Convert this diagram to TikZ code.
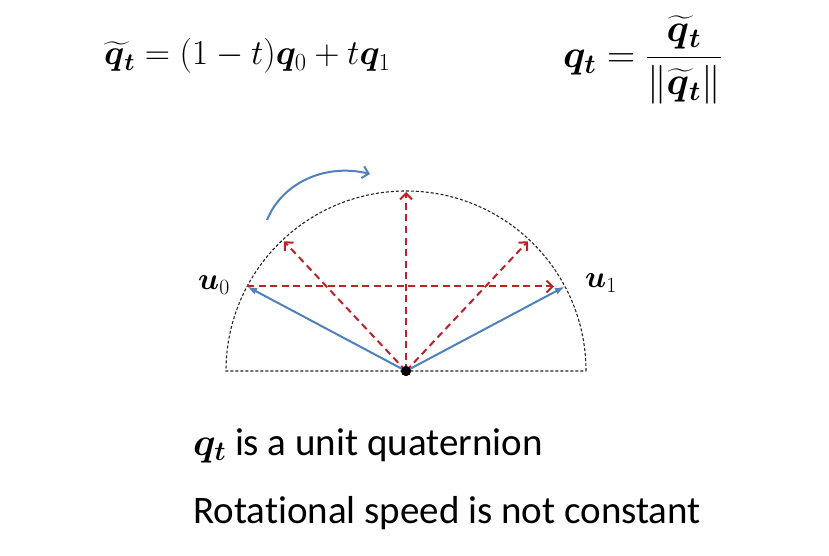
\RequirePackage{fix-cm}
\documentclass[tikz,border=0pt]{standalone}
\usepackage{amsmath,bm}
\usepackage{fontspec}
\setmainfont[Ligatures=CommonOff]{Carlito}
\usetikzlibrary{arrows.meta,calc}
\definecolor{qblue}{RGB}{79,129,189}
\definecolor{qred}{RGB}{192,32,40}
\newcommand{\qtil}{\widetilde{\bm q\mkern3mu}\mkern-3mu}
\begin{document}
\begin{tikzpicture}[x=1pt,y=1pt,
  vecblue/.style={draw=qblue, line width=2pt, -{Latex[length=10pt,width=7pt]}},
  reddash/.style={draw=qred, line width=2pt, dash pattern=on 7pt off 4.5pt, -{Straight Barb[length=6pt,width=12pt]}},
  guide/.style={draw=black!85, line width=1.1pt, dash pattern=on 3pt off 2pt},
  lab/.style={font=\fontsize{31}{36}\selectfont, inner sep=0pt},
  formula/.style={font=\fontsize{35}{40}\selectfont, inner sep=0pt},
  body/.style={font=\fontsize{39}{44}\selectfont, inner sep=0pt, anchor=base west}]
\useasboundingbox (0,0) rectangle (829,555);
\fill[white] (0,0) rectangle (829,555);
\coordinate (C) at (406,184);
\draw[guide] ($(C)+(180,0)$) arc[start angle=0,end angle=180,radius=180] -- cycle;
\coordinate (P0) at ($(C)+(152:180)$);
\coordinate (P1) at ($(C)+(28:180)$);
\coordinate (M1) at ($(P0)!0.25!(P1)$);
\coordinate (M2) at ($(P0)!0.5!(P1)$);
\coordinate (M3) at ($(P0)!0.75!(P1)$);
\coordinate (E1) at ($(C)!178pt!(M1)$);
\coordinate (E2) at ($(C)!179pt!(M2)$);
\coordinate (E3) at ($(C)!178pt!(M3)$);
\coordinate (H1) at ($(P1)!11pt!(P0)$);
\node[circle, fill=black, inner sep=0pt, minimum size=10pt] (O) at (C) {};
\draw[reddash] (P0) -- (H1);
\draw[reddash] (O.center) -- (E1);
\draw[reddash] (O.center) -- (E2);
\draw[reddash] (O.center) -- (E3);
\draw[vecblue] (O.center) -- (P0);
\draw[vecblue] (O.center) -- (P1);
\node[circle, fill=black, inner sep=0pt, minimum size=10pt] at (C) {};
\draw[draw=qblue, line width=2pt, -{Straight Barb[length=6pt,width=12pt]}]
  (267,335) .. controls (282,372) and (325,392) .. (370,381);
\node[lab] (lu0) at (214,270) {$\bm{u}_0$};
\node[lab] (lu1) at (601,272) {$\bm{u}_1$};
\node[formula, anchor=base west] (f1) at (104,490) {$\qtil_{\bm t} = (1-t)\bm q_0 + t\bm q_1$};
\node[formula, font=\fontsize{39}{44}\selectfont, anchor=west] (f2) at (563,495) {$\bm q_{\bm t} = \dfrac{\qtil_{\bm t}}{\|\qtil_{\bm t}\|}$};
\node[body] (t1) at (193,100) {$\bm q_{\bm t}$ is a unit quaternion};
\node[body] (t2) at (193,32) {Rotational speed is not constant};
\end{tikzpicture}
\end{document}
